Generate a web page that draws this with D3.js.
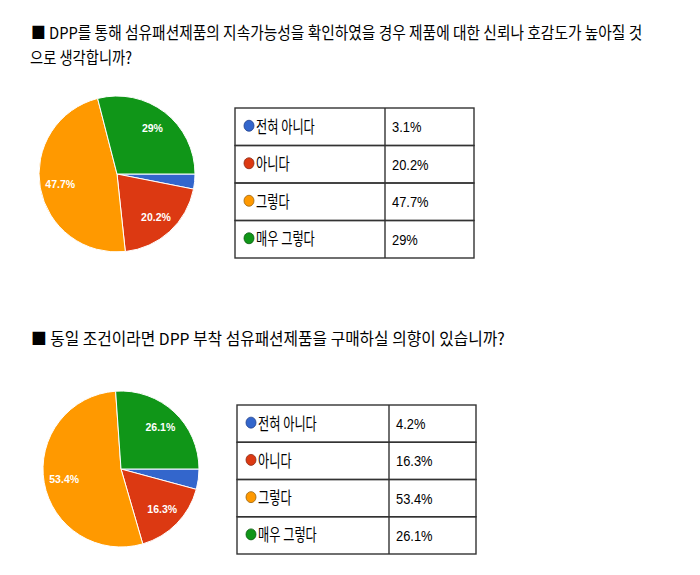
<!DOCTYPE html>
<html>
<head>
<meta charset="utf-8">
<script src="https://cdn.jsdelivr.net/npm/d3@7"></script>
<style>
    body { margin: 0; background: #fff; }
</style>
</head>
<body>
<svg id="chart" width="700" height="575"></svg>
<script>
'use strict';

// answer categories, in pie order (clockwise from 3 o'clock)
const categories = ['전혀 아니다', '아니다', '그렇다', '매우 그렇다'];
const sliceColors = ['#3366cc', '#dc3912', '#ff9900', '#109618'];
const dotStrokes = ['#1f3f8a', '#8c2a14', '#9a6410', '#0c5c12'];

// percentages per question
const trustValues = [3.1, 20.2, 47.7, 29];
const purchaseValues = [4.2, 16.3, 53.4, 26.1];

const trustTitle = [
    '■ DPP를 통해 섬유패션제품의 지속가능성을 확인하였을 경우 제품에 대한 신뢰나 호감도가 높아질 것',
    '으로 생각합니까?',
];
const purchaseTitle = [
    '■  동일 조건이라면 DPP 부착 섬유패션제품을 구매하실 의향이 있습니까?',
];

const krFont = '"Noto Sans CJK KR", "Noto Sans", sans-serif';
const numFont = '"Liberation Sans", Arial, sans-serif';

const svg = d3.select('#chart');

function pct(v) {
    return v + '%';
}

// titles are squeezed horizontally to the width they take in the picture
function drawTitle(lines, layout) {
    svg.append('g')
        .selectAll('text')
        .data(lines)
        .enter().append('text')
        .style('font-family', krFont)
        .style('font-size', '16.5px')
        .style('font-weight', 400)
        .style('fill', '#000')
        .text(function(d) { return d; })
        .attr('transform', function(d, i, nodes) {
            let sx = layout.w[i] / nodes[i].getComputedTextLength();
            return 'translate(' + layout.x[i] + ',' + layout.y[i] +
                ') scale(' + sx + ',1)';
        });
}

function drawPie(values, cx, cy, r) {
    const g = svg.append('g')
        .attr('transform', 'translate(' + cx + ',' + cy + ')');

    const pie = d3.pie()
        .sort(null)
        .startAngle(Math.PI / 2)
        .endAngle(Math.PI / 2 + 2 * Math.PI);

    const arc = d3.arc().innerRadius(0).outerRadius(r);
    const labelArc = d3.arc().innerRadius(r * 0.74).outerRadius(r * 0.74);
    const slices = pie(values);

    g.selectAll('path')
        .data(slices)
        .enter().append('path')
        .attr('d', arc)
        .style('fill', function(d, i) { return sliceColors[i]; })
        .style('stroke', '#fff')
        .style('stroke-width', 1);

    g.selectAll('text')
        .data(slices.filter(function(d) {
            return d.endAngle - d.startAngle > 0.35;
        }))
        .enter().append('text')
        .attr('transform', function(d) {
            return 'translate(' + labelArc.centroid(d) + ')';
        })
        .style('text-anchor', 'middle')
        .style('dominant-baseline', 'central')
        .style('font-family', numFont)
        .style('font-size', '10.5px')
        .style('font-weight', 'bold')
        .style('fill', '#fff')
        .text(function(d) { return pct(d.value); });
}

function drawTable(values, box) {
    const g = svg.append('g');
    const y = d3.scaleBand()
        .domain(categories)
        .range([box.top, box.bottom]);

    const rows = g.selectAll('g.row')
        .data(categories)
        .enter().append('g')
        .attr('class', 'row')
        .attr('transform', function(d) {
            return 'translate(0,' + y(d) + ')';
        });

    rows.append('rect')
        .attr('x', box.left)
        .attr('width', box.right - box.left)
        .attr('height', y.bandwidth())
        .style('fill', 'none')
        .style('stroke', '#333')
        .style('stroke-width', 1.4);

    rows.append('line')
        .attr('x1', box.mid)
        .attr('x2', box.mid)
        .attr('y1', 0)
        .attr('y2', y.bandwidth())
        .style('stroke', '#333')
        .style('stroke-width', 1.4);

    rows.append('ellipse')
        .attr('cx', box.left + 14)
        .attr('cy', y.bandwidth() / 2 - 1)
        .attr('rx', 5)
        .attr('ry', 5.5)
        .style('fill', function(d, i) { return sliceColors[i]; })
        .style('stroke', function(d, i) { return dotStrokes[i]; })
        .style('stroke-width', 0.8);

    rows.append('text')
        .attr('transform', 'translate(' + (box.left + 21) + ',' +
            (y.bandwidth() / 2 + 6) + ') scale(0.74,1)')
        .style('font-family', krFont)
        .style('font-size', '16.5px')
        .style('fill', '#000')
        .text(function(d) { return d; });

    rows.append('text')
        .attr('transform', 'translate(' + (box.mid + 7) + ',' +
            (y.bandwidth() / 2 + 5.5) + ') scale(0.86,1)')
        .style('font-family', numFont)
        .style('font-size', '15px')
        .style('fill', '#000')
        .text(function(d, i) { return pct(values[i]); });
}

drawTitle(trustTitle, {x: [31, 30], y: [38.5, 64], w: [612, 102]});
drawPie(trustValues, 117, 174, 78);
drawTable(trustValues, {left: 235, mid: 385, right: 474, top: 108, bottom: 258});

drawTitle(purchaseTitle, {x: [31], y: [345], w: [474]});
drawPie(purchaseValues, 121, 469, 78);
drawTable(purchaseValues, {left: 237, mid: 389, right: 476, top: 405, bottom: 554});
</script>
</body>
</html>
